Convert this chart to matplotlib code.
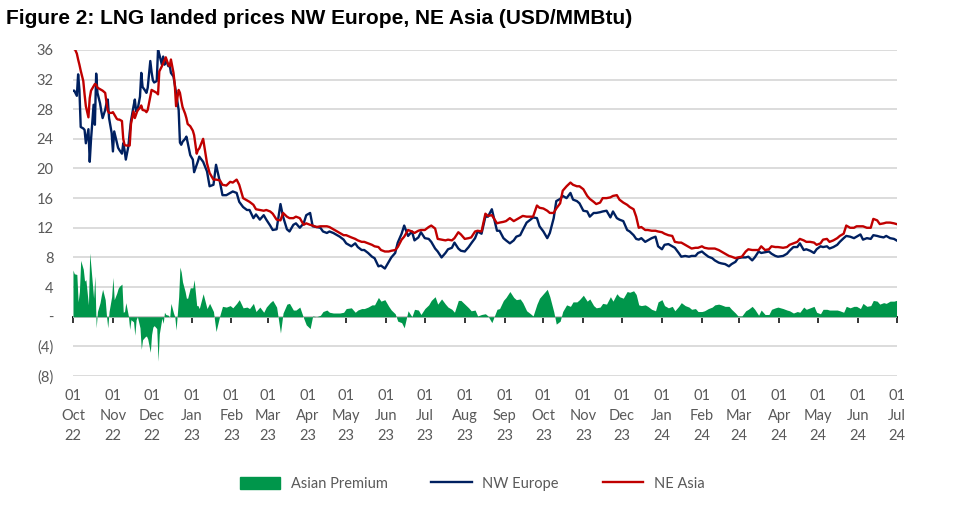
"""
LNG landed prices NW Europe vs NE Asia, with the Asian premium as a filled area.
"""

import numpy as np
import pandas as pd
import matplotlib
matplotlib.use("Agg")
import matplotlib.pyplot as plt
from matplotlib.patches import Patch
from matplotlib.lines import Line2D

# ── Data (days since 1 Oct 2022, USD/MMBtu) ───────────────
START = "2022-10-01"
END = "2024-07-01"

day = [
    0, 1, 3, 4, 5, 6, 8, 9, 10, 12, 13, 14, 16, 17, 18, 19, 21, 22, 23, 25,
    26, 27, 28, 30, 31, 32, 34, 35, 36, 38, 39, 40, 41, 43, 44, 45, 47, 48, 49, 50,
    52, 53, 54, 56, 57, 58, 60, 61, 62, 63, 65, 66, 67, 69, 70, 71, 72, 74, 75, 76,
    78, 79, 80, 82, 83, 84, 85, 87, 88, 89, 91, 92, 93, 94, 96, 97, 98,
    101, 104, 106, 109, 111, 114, 116, 119, 122, 124, 127, 129, 132, 135, 137, 140,
    142, 145, 148, 150, 153, 155, 158, 161, 163, 166, 168, 171, 173, 176, 179, 181,
    184, 186, 189, 192, 194, 197, 199, 202, 205, 207, 210, 212,
    216, 219, 221, 224, 226, 229, 232, 234, 237, 239, 242, 245, 247, 250, 252, 255,
    257, 260, 263, 265, 268, 270, 273, 276, 278, 281, 283, 286, 289, 291, 294, 296,
    299, 301, 304, 307, 309, 312, 314, 317, 320, 322, 325,
    329, 331, 334, 336, 339, 342, 344, 347, 349, 352, 355, 357, 360, 362, 365, 368,
    370, 373, 375, 378, 380, 383, 386, 388, 391, 393, 396, 399, 401, 404, 406, 409,
    411, 414, 417, 419, 422, 424, 427, 430, 432, 435, 437,
    439, 441, 444, 446, 449, 452, 454, 457, 459, 462, 465, 467, 470, 472, 475, 478,
    480, 483, 485, 488, 490, 493, 496, 498, 501, 503, 506, 509, 511, 514, 516, 519,
    522, 524, 527, 529, 532, 534, 537, 540, 542, 545, 547,
    551, 554, 556, 559, 562, 564, 567, 569, 572, 575, 577, 580, 582, 585, 587, 590,
    593, 595, 598, 600, 603, 606, 608, 611, 613, 616, 619, 621, 624, 626, 629, 631,
    634, 637, 639,
]

nw_europe = [
    30.5, 30.5, 29.8, 32.7, 30.6, 25.6, 25.4, 25.2, 23.4, 25.3, 20.9, 23.9, 28.6, 25.9, 32.8, 30.2,
    28.8, 27.7, 26.8, 27.9, 28.8, 29.3, 26.8, 24.8, 22.3, 25.0, 23.5, 22.8, 22.5, 22.0, 23.4, 22.5,
    21.2, 23.0, 24.8, 26.4, 28.4, 29.3, 27.7, 27.8, 29.7, 32.9, 31.0, 30.5, 30.2, 30.9, 34.5, 33.0,
    31.9, 31.6, 31.8, 36.0, 35.4, 34.0, 35.1, 34.0, 34.7, 33.8, 34.0, 32.9, 32.4, 31.3, 30.2, 27.9,
    23.5, 23.2, 23.6, 24.0, 24.3, 23.5, 21.8, 21.5, 21.2, 19.5, 20.5, 21.0, 21.6,
    20.9, 19.6, 17.6, 17.8, 20.5, 18.2, 16.4, 16.4, 16.7, 16.9, 16.7, 15.5, 14.8, 14.4, 14.4, 13.3,
    13.8, 13.1, 13.7, 13.1, 12.3, 11.7, 11.8, 15.2, 13.5, 11.8, 11.5, 12.4, 12.6, 12.0, 12.6, 13.7,
    14.0, 12.2, 12.1, 12.0, 11.5, 11.3, 11.5, 11.3, 11.0, 10.8, 10.4, 9.9,
    9.5, 9.9, 9.4, 9.0, 9.0, 8.6, 8.1, 7.9, 6.8, 6.9, 6.5, 7.4, 8.0, 8.6, 10.0, 11.2,
    12.3, 10.9, 11.5, 10.3, 10.7, 11.4, 10.6, 10.5, 10.1, 9.2, 8.8, 8.0, 8.6, 9.1, 9.3, 10.0,
    9.2, 8.9, 8.8, 9.4, 9.9, 10.6, 11.5, 11.2, 13.5, 13.5, 14.5,
    11.6, 11.6, 10.6, 10.3, 9.9, 10.3, 10.8, 11.0, 11.7, 12.7, 13.1, 13.4, 13.3, 12.2, 11.5, 10.6,
    11.3, 13.3, 15.6, 15.9, 16.3, 16.0, 16.7, 15.8, 15.6, 15.3, 14.3, 14.2, 13.5, 14.0, 14.0, 14.1,
    14.2, 14.3, 13.4, 14.2, 13.3, 13.1, 12.9, 11.7, 11.5, 11.0, 10.5,
    10.4, 10.6, 10.1, 10.3, 10.6, 10.8, 9.5, 9.1, 9.7, 9.8, 9.5, 9.3, 8.6, 8.1, 8.2, 8.1,
    8.2, 8.2, 8.6, 8.8, 8.5, 8.1, 7.9, 7.6, 7.3, 7.2, 7.1, 6.8, 7.1, 7.4, 7.9, 8.0,
    8.0, 8.1, 7.6, 8.0, 8.8, 8.6, 8.7, 8.8, 8.5, 8.2, 8.1,
    8.2, 8.5, 8.9, 9.4, 9.4, 9.9, 9.0, 9.1, 8.9, 8.6, 9.1, 9.5, 9.4, 9.5, 9.2, 9.4,
    9.7, 10.1, 10.6, 10.9, 10.8, 10.6, 10.8, 11.1, 10.4, 10.6, 10.5, 11.0, 10.9, 10.8, 10.7, 10.9,
    10.6, 10.5, 10.3,
]

ne_asia = [
    36.8, 36.3, 35.5, 34.7, 34.0, 33.2, 31.8, 30.0, 28.4, 26.9, 29.5, 30.5, 31.1, 31.4, 31.3, 30.9,
    30.7, 30.6, 30.5, 30.2, 28.9, 27.8, 27.5, 27.5, 27.6, 27.3, 26.7, 26.6, 26.6, 26.4, 24.0, 23.2,
    23.1, 23.1, 23.1, 26.0, 27.7, 26.8, 27.3, 27.8, 28.2, 28.5, 27.9, 27.8, 27.6, 27.9, 29.7, 30.6,
    30.5, 30.4, 30.2, 30.0, 33.1, 33.8, 34.2, 34.6, 35.0, 34.0, 33.8, 34.7, 32.9, 31.3, 28.4, 30.6,
    30.2, 29.2, 28.3, 27.4, 26.8, 26.0, 25.7, 25.4, 25.1, 24.5, 22.0, 22.5, 22.7,
    24.0, 20.7, 19.4, 18.5, 18.5, 18.4, 17.8, 17.7, 18.2, 18.1, 18.5, 17.8, 16.0, 15.7, 15.5, 15.1,
    14.5, 14.4, 14.3, 14.4, 14.2, 13.9, 13.1, 13.0, 14.0, 13.5, 13.3, 13.3, 13.5, 13.3, 12.4, 12.6,
    12.4, 12.3, 12.1, 12.2, 12.2, 12.2, 12.1, 11.8, 11.5, 11.3, 11.0, 11.0,
    10.7, 10.5, 10.3, 10.1, 10.1, 9.9, 9.7, 9.5, 9.4, 9.0, 8.8, 8.8, 8.9, 9.0, 9.4, 10.4,
    10.8, 11.7, 11.5, 11.3, 11.6, 11.7, 11.7, 12.1, 12.3, 11.9, 10.5, 10.4, 10.3, 10.4, 10.3, 10.6,
    11.4, 11.1, 10.5, 10.6, 10.7, 11.5, 11.6, 11.5, 13.9, 13.6, 13.7,
    12.6, 12.7, 12.8, 12.9, 13.3, 12.9, 13.1, 13.4, 13.6, 13.5, 13.5, 13.5, 15.0, 14.7, 14.6, 14.3,
    14.0, 14.0, 14.6, 15.3, 17.0, 17.6, 18.1, 17.8, 17.6, 17.6, 17.2, 16.3, 15.9, 15.5, 15.2, 15.4,
    16.0, 16.0, 16.1, 16.3, 16.4, 15.8, 15.4, 15.1, 14.8, 14.5, 13.5,
    12.0, 12.1, 11.7, 11.7, 11.6, 11.6, 11.5, 11.4, 11.2, 11.0, 10.9, 10.1, 10.0, 10.0, 9.7, 9.4,
    9.2, 9.3, 9.3, 9.5, 9.3, 9.2, 9.2, 9.2, 9.0, 8.8, 8.5, 8.2, 8.1, 7.9, 8.0, 8.1,
    8.8, 9.1, 9.0, 9.0, 9.0, 9.5, 9.0, 9.1, 9.5, 9.4, 9.4,
    9.3, 9.4, 9.7, 9.9, 10.1, 10.5, 10.3, 10.1, 10.1, 10.0, 9.7, 9.9, 10.4, 10.5, 10.1, 10.3,
    10.6, 10.9, 11.2, 12.3, 12.0, 12.0, 12.2, 12.2, 12.2, 12.0, 12.0, 13.2, 13.0, 12.5, 12.6, 12.7,
    12.7, 12.6, 12.5,
]

y_ticks = list(range(-8, 37, 4))

# ── Derived series ─────────────────────────────────────────
dates = pd.Timestamp(START) + pd.to_timedelta(day, unit="D")
nwe = np.array(nw_europe)
nea = np.array(ne_asia)
premium = nea - nwe
months = pd.date_range(START, END, freq="MS")

GREEN = "#00964B"
NAVY = "#002060"
RED = "#C00000"
GREY = "#595959"
FONT = "Lato"

# ── Plot ───────────────────────────────────────────────────
fig = plt.figure(figsize=(9.64, 5.08), dpi=100)
ax = fig.add_axes([0.0757, 0.2598, 0.8543, 0.642])

ax.fill_between(dates, premium, 0, color=GREEN, lw=0, label="Asian Premium")
ax.plot(dates, nwe, color=NAVY, lw=1.7, label="NW Europe")
ax.plot(dates, nea, color=RED, lw=1.7, label="NE Asia")

ax.set_xlim(pd.Timestamp(START), pd.Timestamp(END))
ax.set_ylim(-8, 36)
ax.set_yticks(y_ticks)
ax.set_yticklabels([str(v) if v > 0 else ("-" if v == 0 else f"({-v})") for v in y_ticks],
                   fontfamily=FONT, fontsize=10.5, color=GREY)
ax.set_xticks(months)
ax.set_xticklabels([m.strftime("%d\n%b\n%y") for m in months],
                   fontfamily=FONT, fontsize=10.5, color=GREY, linespacing=1.55)
ax.tick_params(axis="both", length=0)
ax.tick_params(axis="y", pad=14)
ax.tick_params(axis="x", pad=9)

ax.grid(axis="y", color="#d9d9d9", lw=1.3)
ax.set_axisbelow(True)
for s in ax.spines.values():
    s.set_visible(False)

# zero line with month tick marks
zero = ax.secondary_xaxis(8 / 44)
zero.set_xticks(months)
zero.set_xticklabels([])
zero.tick_params(axis="x", direction="out", length=4, width=1.1, color="black")
zero.spines["bottom"].set_color("black")
zero.spines["bottom"].set_linewidth(1.3)

# ── Title and legend ───────────────────────────────────────
fig.text(6 / 964, 1 - 18 / 508, "Figure 2: LNG landed prices NW Europe, NE Asia (USD/MMBtu)",
         fontfamily="Liberation Sans", fontweight="bold", fontsize=15, va="center", ha="left")

handles = [Patch(color=GREEN), Line2D([], [], color=NAVY, lw=1.7), Line2D([], [], color=RED, lw=1.7)]
fig.legend(handles, ["Asian Premium", "NW Europe", "NE Asia"], loc="center",
           bbox_to_anchor=(472 / 964, 1 - 484 / 508), ncol=3, frameon=False,
           prop={"family": FONT, "size": 10.5}, labelcolor=GREY,
           handlelength=2.8, handleheight=0.9, columnspacing=3.0, handletextpad=0.7)

fig.savefig("out.png", dpi=100)
print("Saved: out.png")
